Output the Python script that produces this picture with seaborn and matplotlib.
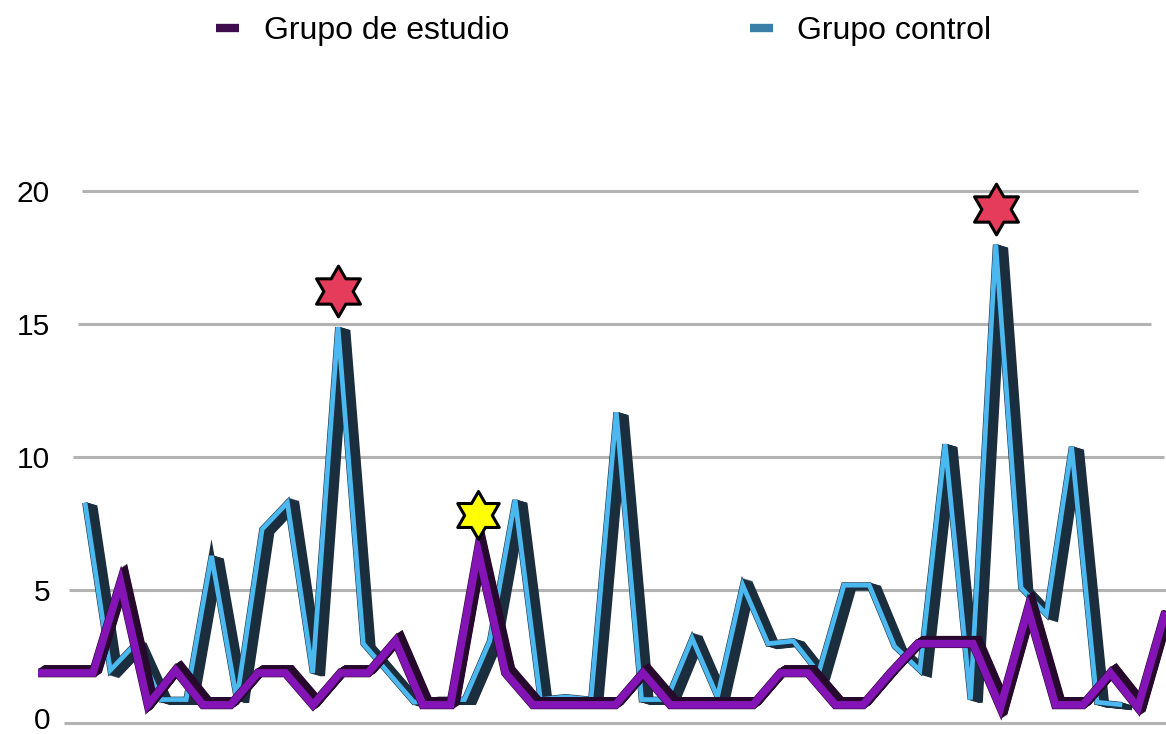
import numpy as np
import pandas as pd
import seaborn as sns
import matplotlib
matplotlib.use("Agg")
import matplotlib.pyplot as plt
from matplotlib.transforms import offset_copy, ScaledTranslation
from matplotlib.lines import Line2D
from matplotlib.path import Path
import matplotlib.patheffects as pe

# ---- data -------------------------------------------------------------
series_names = ["Grupo de estudio", "Grupo control"]

estudio = [1.9, 1.9, 1.9, 5.3, 0.7, 2.0, 0.7, 0.7, 1.9, 1.9,
           0.7, 1.9, 1.9, 3.1, 0.7, 0.7, 6.5, 1.9, 0.7, 0.7,
           0.7, 0.7, 1.9, 0.7, 0.7, 0.7, 0.7, 1.9, 1.9, 0.7,
           0.7, 1.9, 3.0, 3.0, 3.0, 0.6, 4.3, 0.7, 0.7, 1.9,
           0.6, 4.2]

control = [8.3, 2.0, 3.0, 0.9, 0.9, 6.3, 0.9, 7.3, 8.3, 1.9,
           14.9, 3.0, 1.9, 0.8, 0.9, 0.9, 3.1, 8.4, 0.9, 1.0,
           0.9, 11.7, 0.9, 0.9, 3.2, 1.0, 5.2, 3.0, 3.1, 1.9,
           5.2, 5.2, 2.9, 2.0, 10.5, 0.9, 18.0, 5.1, 4.1, 10.4,
           0.8, 0.7]

y_ticks = [0, 5, 10, 15, 20]

# highlighted points: (series, index, star colour)
highlights = [("control", 10, "#e63c5b"),
              ("control", 36, "#e63c5b"),
              ("estudio", 16, "#ffff00")]

df = pd.DataFrame({
    "idx": np.arange(len(estudio)),
    "estudio": estudio,
    "control": control,
})

# ---- style ------------------------------------------------------------
sns.set_theme(style="white")
plt.rcParams["font.family"] = ["Liberation Sans", "DejaVu Sans"]
plt.rcParams["text.color"] = "black"

fig = plt.figure(figsize=(11.66, 7.34), dpi=100)
fig.patch.set_facecolor("white")

# rear ribbon (control) sits on its own x scale to give a sense of depth
ax_back = fig.add_axes([0, 0, 1, 0.8])
ax_front = ax_back.twiny()

ax_back.set_ylim(-0.395, 21.68)
ax_back.set_xlim(-3.36, 42.73)
ax_front.set_xlim(-1.382, 41.02)

for a in (ax_back, ax_front):
    a.set_xticks([])
    a.set_xlabel("")
    for s in a.spines.values():
        s.set_visible(False)
    a.patch.set_visible(False)

ax_back.set_yticks(y_ticks)
ax_back.set_yticklabels([str(v) for v in y_ticks])
ax_back.tick_params(axis="y", length=0, pad=-36, labelsize=21.5,
                    labelcolor="black")
ax_back.set_ylabel("")
# lift the lowest label a little so it stays inside the canvas
low = ax_back.get_yticklabels()[0]
low.set_transform(low.get_transform() +
                  ScaledTranslation(0, 5 / 100, fig.dpi_scale_trans))

# horizontal guide lines, fanning slightly toward the viewer
for v in y_ticks:
    left = (82 - (20 - v) * 0.9) / 1166
    right = (1138 + (20 - v) * 2.6) / 1166
    ax_back.axhline(v, xmin=left, xmax=right, color="#b3b3b3", lw=2.2,
                    zorder=0.5, solid_capstyle="butt")


def ribbon(ax, col, light, dark, lw, dx, dy, z):
    """Extruded line: dark depth faces swept behind a lighter front face."""
    steps = 14
    for k in range(steps, 0, -1):
        t = offset_copy(ax.transData, fig=fig, x=dx * k / steps,
                        y=dy * k / steps, units="dots")
        ax.plot(df["idx"], df[col], color=dark, lw=lw, transform=t,
                solid_joinstyle="miter", solid_capstyle="butt", zorder=z)
    sns.lineplot(data=df, x="idx", y=col, ax=ax, color=light, linewidth=lw,
                 zorder=z + 1, legend=False, estimator=None, sort=False,
                 solid_joinstyle="miter", solid_capstyle="butt",
                 path_effects=[pe.Stroke(linewidth=lw + 0.8, foreground=dark),
                               pe.Normal()])
    ax.set_xlabel("")
    ax.set_ylabel("")


ribbon(ax_back, "control", "#4cb8f0", "#1b2e3d", 3.4, 10, -3, 2)
ribbon(ax_front, "estudio", "#8414b6", "#26092c", 5.5, 6, 4, 2)
ax_front.set_xticks([])

# star markers above the highlighted peaks
star = Path.unit_regular_star(6, 0.577)
for name, i, colour in highlights:
    target = ax_back if name == "control" else ax_front
    vals = df[name]
    size = 36.5 if name == "control" else 34.5
    target.plot([df["idx"][i]], [vals[i] + 1.35], marker=star, ms=size,
                mfc=colour, mec="black", mew=2.2, ls="none", zorder=10,
                clip_on=False)

# legend
handles = [Line2D([], [], color="#3f0d4e", lw=6, solid_capstyle="butt"),
           Line2D([], [], color="#3b7fa7", lw=6, solid_capstyle="butt")]
leg = fig.legend(handles, series_names, loc="center",
                 bbox_to_anchor=(0.518, 0.958), ncol=2, frameon=False,
                 fontsize=23, handlelength=0.7, handletextpad=0.78,
                 columnspacing=7.55)
for txt in leg.get_texts():
    txt.set_color("black")

fig.savefig("out.png", dpi=100)
